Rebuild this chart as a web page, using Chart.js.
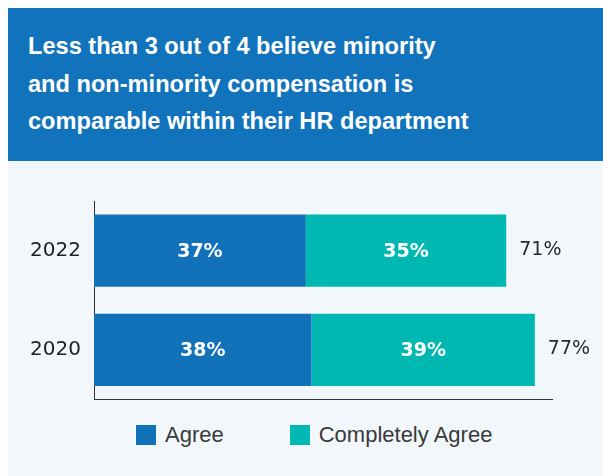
<!DOCTYPE html>
<html>
<head>
<meta charset="utf-8">
<script src="https://cdn.jsdelivr.net/npm/chart.js@4/dist/chart.umd.min.js"></script>
<style>
  html, body { margin: 0; padding: 0; background: #ffffff; }
  body { width: 603px; height: 476px; position: relative; overflow: hidden; }
  #banner {
    position: absolute; left: 8px; top: 8px; width: 595px; height: 153px;
    background: #1173BB; color: #ffffff; box-sizing: border-box;
    padding: 20px 0 0 20px;
    font-family: "Liberation Sans", Arial, sans-serif; font-weight: bold;
    font-size: 23.6px; line-height: 37.5px;
  }
  #panel { position: absolute; left: 8px; top: 161px; width: 595px; height: 315px; background: #F2F7FC; }
  #wrap { position: absolute; left: 8px; top: 161px; width: 595px; height: 252px; }
  #legend {
    position: absolute; left: 136px; top: 425px; height: 20px;
    display: flex; align-items: center; gap: 66px;
    font-family: "Liberation Sans", Arial, sans-serif; font-size: 22px; color: #3a3a3a;
  }
  .item { display: flex; align-items: center; }
  .box { width: 20px; height: 20px; margin-right: 9px; }
</style>
</head>
<body>
<div id="banner">Less than 3 out of 4 believe minority<br>and non-minority compensation is<br>comparable within their HR department</div>
<div id="panel"></div>
<div id="wrap"><canvas id="c" width="595" height="252"></canvas></div>
<div id="legend"></div>
<script>
const categories = ["2022", "2020"];
const agree = [37, 38];
const completelyAgree = [35, 39];
const totals = [71, 77];
const seriesNames = ["Agree", "Completely Agree"];
const seriesColors = ["#1172BA", "#00B8B2"];

const labelPlugin = {
  id: 'barLabels',
  afterDatasetsDraw(chart) {
    const ctx = chart.ctx;
    ctx.save();
    chart.data.datasets.forEach((ds, di) => {
      const meta = chart.getDatasetMeta(di);
      meta.data.forEach((bar, i) => {
        const cx = (bar.x + bar.base) / 2;
        ctx.fillStyle = '#ffffff';
        ctx.font = 'bold 19px "DejaVu Sans"';
        ctx.textAlign = 'center';
        ctx.textBaseline = 'middle';
        ctx.fillText(ds.data[i] + '%', cx, bar.y + 1);
      });
    });
    const last = chart.getDatasetMeta(chart.data.datasets.length - 1);
    last.data.forEach((bar, i) => {
      ctx.fillStyle = '#2a2a2a';
      ctx.font = 'normal 19px "DejaVu Sans"';
      ctx.textAlign = 'left';
      ctx.textBaseline = 'middle';
      ctx.fillText(totals[i] + '%', bar.x + 13, bar.y - 1);
    });
    ctx.restore();
  }
};

const chart = new Chart(document.getElementById('c'), {
  type: 'bar',
  data: {
    labels: categories,
    datasets: [
      { label: seriesNames[0], data: agree, backgroundColor: seriesColors[0], borderWidth: 0 },
      { label: seriesNames[1], data: completelyAgree, backgroundColor: seriesColors[1], borderWidth: 0 }
    ]
  },
  options: {
    indexAxis: 'y',
    responsive: false,
    animation: false,
    devicePixelRatio: 1,
    categoryPercentage: 0.726,
    barPercentage: 1,
    layout: { padding: { left: 0, top: 40, right: 51, bottom: 13.5 } },
    plugins: { legend: { display: false }, tooltip: { enabled: false } },
    scales: {
      x: {
        stacked: true, min: 0, max: 80,
        afterFit(scale) { scale.height = 0; },
        ticks: { display: false },
        grid: { display: false, drawTicks: false },
        border: { display: true, color: '#333333', width: 1 }
      },
      y: {
        stacked: true,
        afterFit(scale) { scale.width = 86; scale.paddingTop = 0; scale.paddingBottom = 0; },
        ticks: { color: '#222222', padding: 13, font: { family: 'DejaVu Sans', size: 20 } },
        grid: { display: false, drawTicks: false },
        border: { display: true, color: '#333333', width: 1 }
      }
    }
  },
  plugins: [labelPlugin]
});

const legend = document.getElementById('legend');
seriesNames.forEach((n, i) => {
  const it = document.createElement('div');
  it.className = 'item';
  const b = document.createElement('span');
  b.className = 'box';
  b.style.background = seriesColors[i];
  const t = document.createElement('span');
  t.textContent = n;
  it.appendChild(b); it.appendChild(t);
  legend.appendChild(it);
});
</script>
</body>
</html>
